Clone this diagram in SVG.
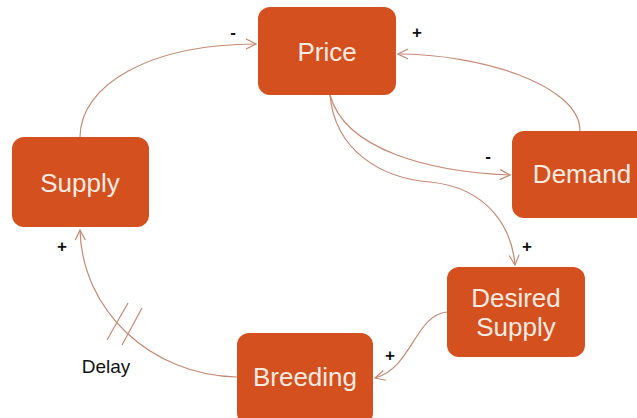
<svg xmlns="http://www.w3.org/2000/svg" width="637" height="418" viewBox="0 0 637 418">
<style>
.box{fill:#d4501e;}
.lbl{font-family:"Liberation Sans",Arial,sans-serif;font-size:26px;fill:#f7ebe2;text-anchor:middle;}
.sign{font-family:"Liberation Sans",Arial,sans-serif;font-size:17px;font-weight:bold;fill:#111;text-anchor:middle;}
.con{fill:none;stroke:#c58a74;stroke-width:1.2;}
</style>
<defs>
<marker id="arr" viewBox="0 0 12 12" refX="11" refY="6" markerWidth="12" markerHeight="12" markerUnits="userSpaceOnUse" orient="auto">
<polyline points="1,1 11,6 1,11" fill="none" stroke="#c58a74" stroke-width="1.2"/>
</marker>
</defs>
<rect width="637" height="418" fill="#ffffff"/>
<g id="connectors">
<path class="con" marker-end="url(#arr)" d="M 80 137 C 80 85, 150 44, 256 44"/>
<path class="con" marker-end="url(#arr)" d="M 580 131 C 580 85, 480 54, 398 54"/>
<path class="con" marker-end="url(#arr)" d="M 330 95 C 345 150, 430 172, 510 175"/>
<path class="con" marker-end="url(#arr)" d="M 330 95 C 335 150, 380 178, 430 182 C 490 188, 512 230, 515 265"/>
<path class="con" marker-end="url(#arr)" d="M 447 312 C 415 315, 412 368, 375 378"/>
<path class="con" marker-end="url(#arr)" d="M 237 377 C 150 375, 82 310, 80 230"/>
<line class="con" x1="107" y1="340" x2="128" y2="303"/>
<line class="con" x1="122" y1="345" x2="142" y2="308"/>
<text class="sign" x="233" y="38">-</text>
<text class="sign" x="417" y="38">+</text>
<text class="sign" x="488" y="162">-</text>
<text class="sign" x="527" y="252">+</text>
<text class="sign" x="390" y="361">+</text>
<text class="sign" x="62" y="252">+</text>
<text x="106" y="373" font-family="Liberation Sans, Arial, sans-serif" font-size="19" fill="#111" text-anchor="middle">Delay</text>
</g>
<g id="price"><rect class="box" x="258" y="7" width="138" height="88" rx="12"/><text class="lbl" x="327" y="61">Price</text></g>
<g id="supply"><rect class="box" x="12" y="137" width="137" height="90" rx="12"/><text class="lbl" x="80" y="192">Supply</text></g>
<g id="demand"><rect class="box" x="512" y="131" width="140" height="87" rx="12"/><text class="lbl" x="582" y="183">Demand</text></g>
<g id="desired-supply"><rect class="box" x="447" y="267" width="138" height="90" rx="12"/><text class="lbl" x="516" y="307">Desired</text><text class="lbl" x="516" y="336">Supply</text></g>
<g id="breeding"><rect class="box" x="237" y="333" width="136" height="92" rx="12"/><text class="lbl" x="305" y="386">Breeding</text></g>
</svg>
